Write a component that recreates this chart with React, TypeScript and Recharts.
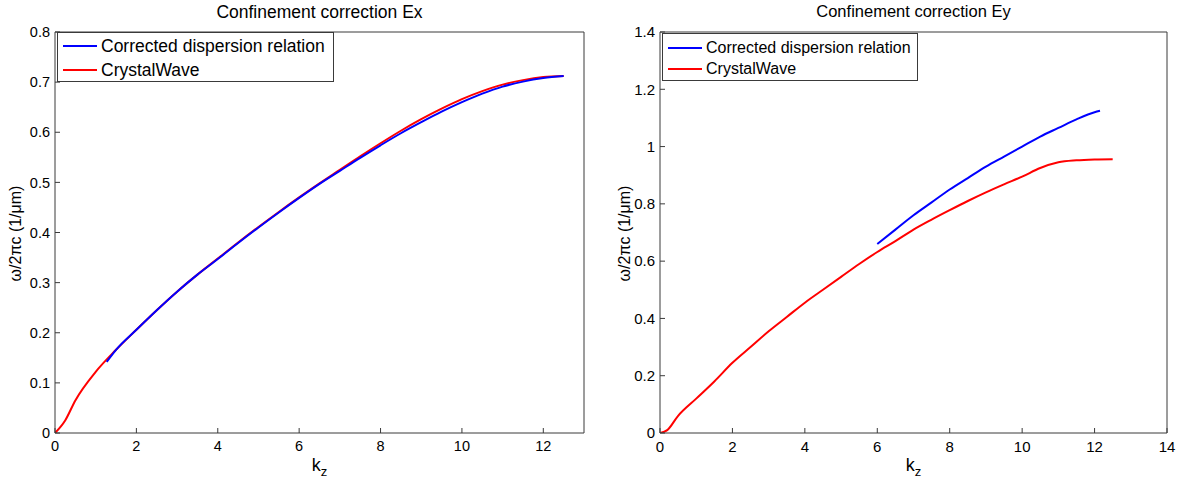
import React from 'react'
import { LineChart, Line, XAxis, YAxis } from 'recharts'

// Ex panel
const exCrystalK = [0, 0.25, 0.5, 1, 1.5, 2, 2.5, 3, 3.5, 4, 4.5, 5, 5.5, 6, 6.5, 7, 7.5, 8, 8.5, 9, 9.5, 10, 10.5, 11, 11.5, 12, 12.5]
const exCrystalW = [0, 0.025, 0.065, 0.122, 0.166, 0.206, 0.245, 0.282, 0.316, 0.348, 0.38, 0.411, 0.441, 0.47, 0.498, 0.525, 0.552, 0.578, 0.603, 0.626, 0.647, 0.666, 0.682, 0.695, 0.704, 0.71, 0.712]
const exCorrectedK = [1.27, 1.5, 2, 2.5, 3, 3.5, 4, 4.5, 5, 5.5, 6, 6.5, 7, 7.5, 8, 8.5, 9, 9.5, 10, 10.5, 11, 11.5, 12, 12.5]
const exCorrectedW = [0.142, 0.166, 0.206, 0.245, 0.282, 0.316, 0.347, 0.379, 0.41, 0.44, 0.469, 0.497, 0.523, 0.549, 0.574, 0.598, 0.62, 0.641, 0.66, 0.677, 0.691, 0.701, 0.708, 0.712]

// Ey panel
const eyCrystalK = [0, 0.2, 0.5, 1, 1.5, 2, 2.5, 3, 3.5, 4, 4.5, 5, 5.5, 6, 6.5, 7, 7.5, 8, 8.5, 9, 9.5, 10, 10.5, 11, 11.5, 12, 12.5]
const eyCrystalW = [0, 0.01, 0.06, 0.12, 0.18, 0.245, 0.3, 0.355, 0.405, 0.455, 0.5, 0.545, 0.59, 0.632, 0.67, 0.71, 0.745, 0.778, 0.81, 0.84, 0.868, 0.895, 0.925, 0.945, 0.952, 0.955, 0.956]
const eyCorrectedK = [6, 6.5, 7, 7.5, 8, 8.5, 9, 9.5, 10, 10.5, 11, 11.5, 12, 12.15]
const eyCorrectedW = [0.66, 0.71, 0.76, 0.805, 0.85, 0.89, 0.93, 0.965, 1.0, 1.035, 1.065, 1.095, 1.12, 1.125]

const exXTicks = [0, 2, 4, 6, 8, 10, 12]
const exYTicks = [0, 0.1, 0.2, 0.3, 0.4, 0.5, 0.6, 0.7, 0.8]
const eyXTicks = [0, 2, 4, 6, 8, 10, 12, 14]
const eyYTicks = [0, 0.2, 0.4, 0.6, 0.8, 1, 1.2, 1.4]

const seriesNames = ['Corrected dispersion relation', 'CrystalWave']
const BLUE = '#0000ff'
const RED = '#ff0000'
const AXIS = '#3a3a3a'
const FONT = '"Liberation Sans", Arial, sans-serif'

const toRows = (ks: number[], ws: number[]) => ks.map((k, i) => ({ k, w: ws[i] }))

function XLabel({ viewBox }: any) {
  const cx = viewBox.x + viewBox.width / 2
  return (
    <text x={cx} y={viewBox.y + 38} textAnchor="middle" fontSize={18} fill="#000" fontFamily={FONT}>
      k<tspan dy={5} fontSize={13}>z</tspan>
    </text>
  )
}

function Panel({ left, width, plotLeft, marginRight, xDomain, xTicks, yDomain, yTicks, title, titleSize, tickFont, legend, blue, red, yLabelDx }: any) {
  const blank = () => ''
  const tickStyle = { fontSize: tickFont, fill: '#000', fontFamily: FONT }
  return (
    <div style={{ position: 'absolute', left, top: 0, width, height: 482 }}>
      <LineChart width={width} height={482} margin={{ top: 31, right: marginRight, bottom: 19, left: 0 }}>
        <XAxis xAxisId="bottom" type="number" dataKey="k" domain={xDomain} ticks={xTicks} allowDataOverflow
          height={30} tickSize={-5} tickMargin={13} stroke={AXIS} tick={tickStyle} interval={0}
          label={<XLabel />} />
        <XAxis xAxisId="top" orientation="top" type="number" dataKey="k" domain={xDomain} ticks={xTicks}
          height={1} tickSize={-5} tickFormatter={blank} stroke={AXIS} interval={0} />
        <YAxis yAxisId="left" type="number" domain={yDomain} ticks={yTicks} width={plotLeft} allowDataOverflow
          tickSize={-5} tickMargin={10} stroke={AXIS} tick={tickStyle} interval={0}
          label={{ value: 'ω/2πc (1/μm)', angle: -90, position: 'center', dx: yLabelDx, dy: 1, style: { fontSize: 16, fill: '#000', fontFamily: FONT } }} />
        <YAxis yAxisId="right" orientation="right" type="number" domain={yDomain} ticks={yTicks} width={1}
          tickSize={-5} tickFormatter={blank} stroke={AXIS} interval={0} />
        <Line xAxisId="bottom" yAxisId="left" data={red} dataKey="w" stroke={RED} strokeWidth={2} dot={false} isAnimationActive={false} type="monotone" />
        <Line xAxisId="bottom" yAxisId="left" data={blue} dataKey="w" stroke={BLUE} strokeWidth={2} dot={false} isAnimationActive={false} type="monotone" />
      </LineChart>
      <div style={{ position: 'absolute', top: 2, left: plotLeft, width: width - plotLeft - marginRight - 1, textAlign: 'center', fontFamily: FONT, fontSize: titleSize, color: '#000' }}>
        {title}
      </div>
      <div style={{ position: 'absolute', left: legend.x, top: legend.y, width: legend.w, height: legend.h, border: `1px solid ${AXIS}`, background: '#fff', boxSizing: 'border-box', fontFamily: FONT, fontSize: legend.font }}>
        {seriesNames.map((name, i) => (
          <div key={name} style={{ position: 'absolute', left: 5, top: legend.rows[i] - legend.y - 12, height: 24, display: 'flex', alignItems: 'center', whiteSpace: 'nowrap' }}>
            <span style={{ display: 'inline-block', width: 34, height: 2, background: i === 0 ? BLUE : RED, marginRight: 4 }} />
            <span>{name}</span>
          </div>
        ))}
      </div>
    </div>
  )
}

export default function App() {
  return (
    <div style={{ position: 'absolute', left: 0, top: 0, width: 1178, height: 482, background: '#fff' }}>
      <Panel left={0} width={590} plotLeft={55} marginRight={5} xDomain={[0, 13]} xTicks={exXTicks}
        yDomain={[0, 0.8]} yTicks={exYTicks} title="Confinement correction Ex" titleSize={17.5} tickFont={14.5}
        legend={{ x: 57, y: 32, w: 277, h: 50, font: 17.5, rows: [45, 69] }}
        blue={toRows(exCorrectedK, exCorrectedW)} red={toRows(exCrystalK, exCrystalW)} yLabelDx={-12} />
      <Panel left={590} width={588} plotLeft={70} marginRight={10} xDomain={[0, 14]} xTicks={eyXTicks}
        yDomain={[0, 1.4]} yTicks={eyYTicks} title="Confinement correction Ey" titleSize={16.5} tickFont={15}
        legend={{ x: 72, y: 33, w: 256, h: 48, font: 16, rows: [47, 68] }}
        blue={toRows(eyCorrectedK, eyCorrectedW)} red={toRows(eyCrystalK, eyCrystalW)} yLabelDx={-1} />
    </div>
  )
}
